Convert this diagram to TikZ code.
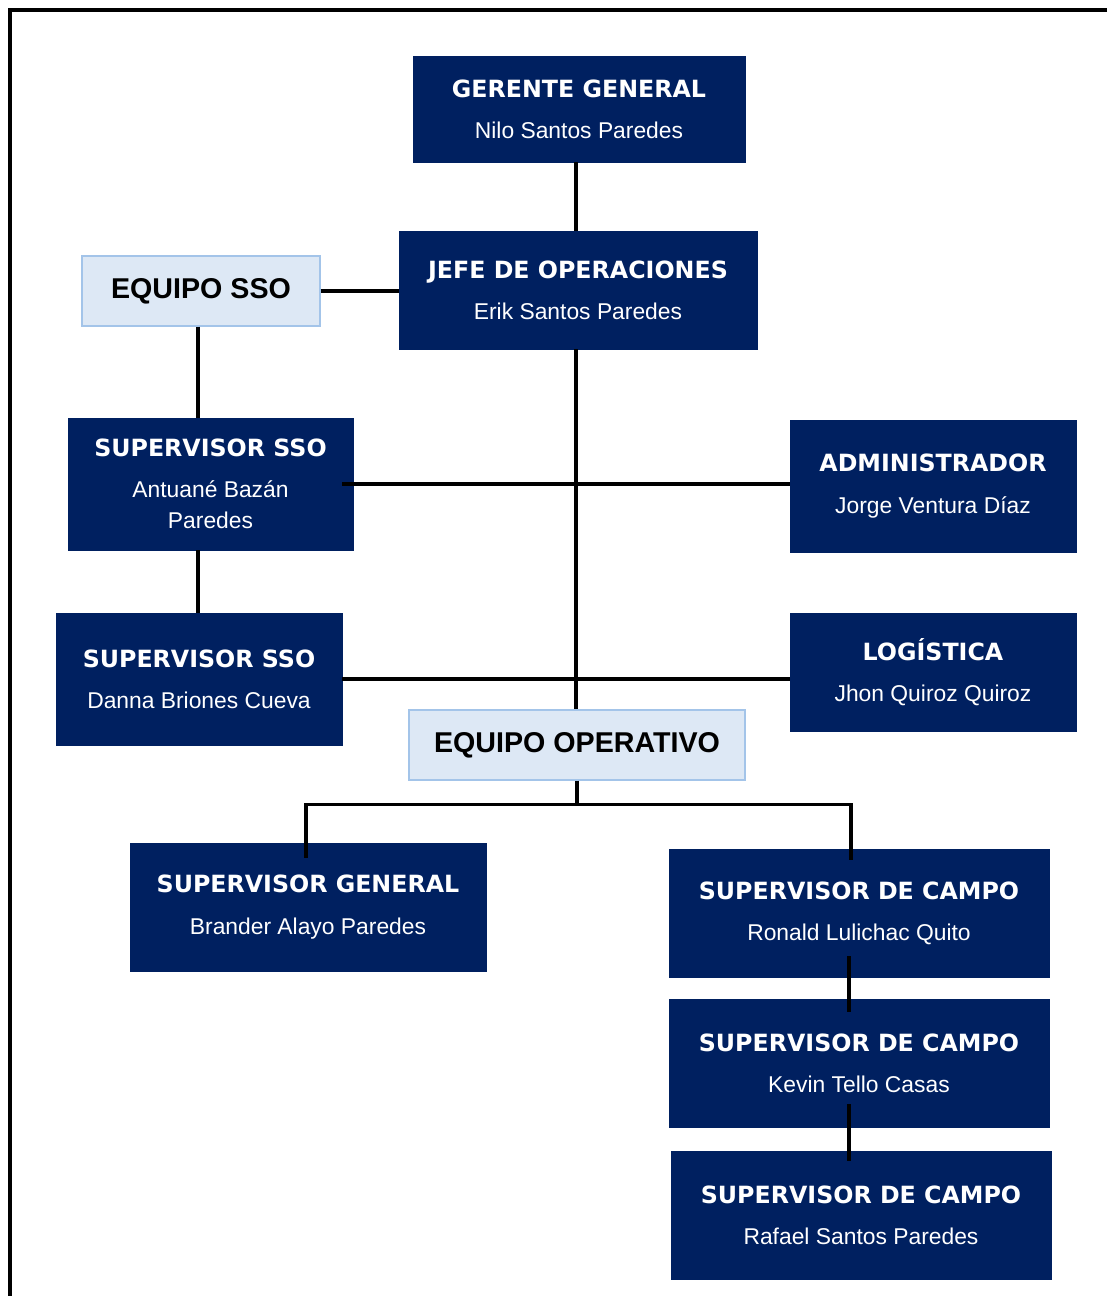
\documentclass[tikz,border=0pt]{standalone}
\usepackage{fontspec}
\setmainfont{Liberation Sans}
\newfontfamily\cargofont{DejaVu Sans}
\usetikzlibrary{positioning, calc}
\definecolor{azulosc}{RGB}{0,32,96}
\definecolor{celeste}{RGB}{221,232,245}
\definecolor{bordeceleste}{RGB}{163,196,233}
\tikzset{
    puesto/.style={
        rectangle,
        inner sep=0pt,
        align=center, % dos lineas: cargo y nombre
        draw=azulosc,
        fill=azulosc,
        text=white,
        font=\fontsize{13}{17.5}\selectfont
    },
    equipo/.style={
        rectangle,
        inner sep=0pt,
        align=center,
        draw=bordeceleste,
        line width=0.8pt,
        fill=celeste,
        font=\bfseries\fontsize{16.3}{19}\selectfont
    },
    linea/.style={
        draw=black,
        line width=1.9pt
    }
}
\newcommand{\cargo}[2]{{\cargofont\bfseries\fontsize{13.5}{16}\selectfont #1}\\[6pt]#2}

\begin{document}
\begin{tikzpicture}[x=0.02cm, y=-0.02cm]
\useasboundingbox (0,0) rectangle (1107,1296);

% marco
\draw[line width=1.9pt] (1107,10) -- (10,10) -- (10,1296);

% direccion
\node[puesto, minimum width=6.64cm, minimum height=2.12cm] (gerente) at (579,109)
    {\cargo{GERENTE GENERAL}{Nilo Santos Paredes}};
\node[puesto, minimum width=7.16cm, minimum height=2.36cm] (jefe) at (578,290)
    {\cargo{JEFE DE OPERACIONES}{Erik Santos Paredes}};

% rama SSO
\node[equipo, minimum width=4.76cm, minimum height=1.4cm] (eqsso) at (201,291) {EQUIPO SSO};
\node[puesto, minimum width=5.7cm, minimum height=2.64cm] (sso1) at (210.5,484)
    {\cargo{SUPERVISOR SSO}{Antuané Bazán\\Paredes}};
\node[puesto, minimum width=5.72cm, minimum height=2.64cm] (sso2) at (199,679)
    {\cargo{SUPERVISOR SSO}{Danna Briones Cueva}};

% apoyo
\node[puesto, minimum width=5.72cm, minimum height=2.64cm] (admin) at (933,486)
    {\cargo{ADMINISTRADOR}{Jorge Ventura Díaz}};
\node[puesto, minimum width=5.72cm, minimum height=2.36cm] (logis) at (933,672)
    {\cargo{LOGÍSTICA}{Jhon Quiroz Quiroz}};

% equipo operativo
\node[equipo, minimum width=6.72cm, minimum height=1.4cm] (eqop) at (577,745) {EQUIPO OPERATIVO};
\node[puesto, minimum width=7.12cm, minimum height=2.56cm] (supgen) at (308,907)
    {\cargo{SUPERVISOR GENERAL}{Brander Alayo Paredes}};
\node[puesto, minimum width=7.6cm, minimum height=2.56cm] (campo1) at (859,913)
    {\cargo{SUPERVISOR DE CAMPO}{Ronald Lulichac Quito}};
\node[puesto, minimum width=7.6cm, minimum height=2.56cm] (campo2) at (859,1063)
    {\cargo{SUPERVISOR DE CAMPO}{Kevin Tello Casas}};
\node[puesto, minimum width=7.6cm, minimum height=2.56cm] (campo3) at (861,1215)
    {\cargo{SUPERVISOR DE CAMPO}{Rafael Santos Paredes}};

% conectores
\coordinate (bus) at ($(eqop.south)+(0,-0.48cm)$);
\draw[linea] ([xshift=-0.06cm]gerente.south) -- ([xshift=-0.06cm]gerente.south |- jefe.north);
\draw[linea] (eqsso.east) -- (eqsso.east -| jefe.west);
\draw[linea] ([xshift=-0.06cm]eqsso.south) -- ([xshift=-0.06cm]eqsso.south |- sso1.north);
\draw[linea] ([xshift=-0.06cm]eqsso.south |- sso1.south) -- ([xshift=-0.06cm]eqsso.south |- sso2.north);
\draw[linea] ([xshift=-0.04cm]jefe.south) -- ([xshift=-0.04cm]jefe.south |- eqop.north);
\draw[linea] ([xshift=-0.22cm]sso1.east) -- (sso1.east -| admin.west);
\draw[linea] (sso2.east) -- (sso2.east -| logis.west);
\draw[linea] (eqop.south) -- (bus);
\draw[linea] ([xshift=-0.04cm, yshift=-0.3cm]supgen.north) |- (bus)
    -| ([xshift=-0.16cm, yshift=-0.22cm]campo1.north);
\draw[linea] ([xshift=-0.2cm, yshift=0.42cm]campo1.south) -- ([xshift=-0.2cm, yshift=-0.26cm]campo1.south |- campo2.north);
\draw[linea] ([xshift=-0.2cm, yshift=0.46cm]campo2.south) -- ([xshift=-0.2cm, yshift=-0.2cm]campo2.south |- campo3.north);

\end{tikzpicture}
\end{document}
